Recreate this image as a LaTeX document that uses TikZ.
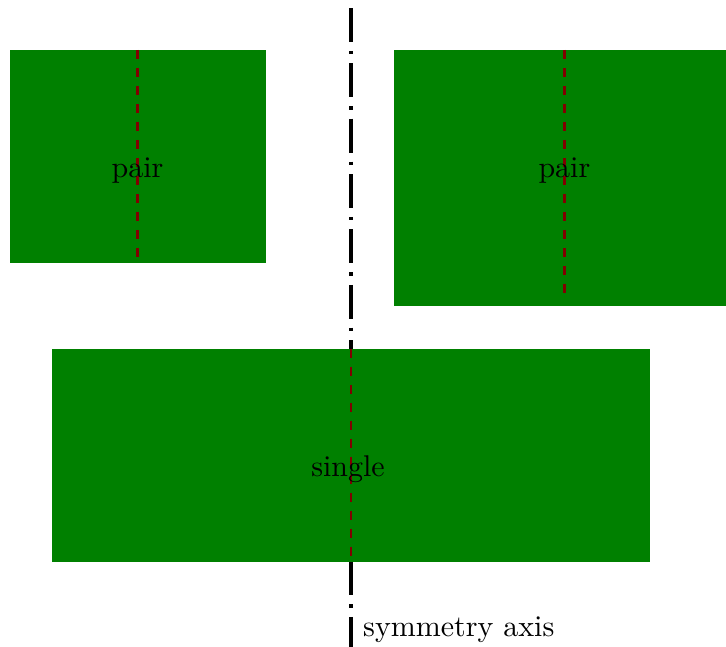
\documentclass[tikz,border=0pt]{standalone}
\usetikzlibrary{calc}
\definecolor{blockgreen}{RGB}{0,128,0}
\definecolor{midred}{RGB}{128,0,0}
\tikzset{
  blockbox/.style={fill=blockgreen, draw=none, inner sep=0pt, outer sep=0pt},
  midline/.style={midred, thick, dashed},
  axisline/.style={black, line width=1.4pt,
    dash pattern=on 11.3pt off 3pt on 1.15pt off 3pt},
  tag/.style={inner sep=0pt, anchor=base, font=\normalsize}
}
\begin{document}
\begin{tikzpicture}
\useasboundingbox (-4.112,-0.984) rectangle (4.393,6.584);

% symmetry axis, drawn first so the blocks cover it
\coordinate (axtop) at (0,6.49);
\coordinate (axbot) at (0,-1.05);
\draw[axisline] (axtop) -- (axbot);

% the three blocks
\node[blockbox, minimum width=3cm, minimum height=2.5cm] (lp) at (-2.5,4.75) {};
\node[blockbox, minimum width=4cm, minimum height=3cm] (rp) at (2.5,4.5) {};
\node[blockbox, minimum width=7cm, minimum height=2.5cm] (sg) at (0,1.25) {};

% centre lines of the blocks
\coordinate (rpend) at ($(rp.south)+(0,0.1)$);
\draw[midline] (lp.north) -- (lp.south);
\draw[midline] (rp.north) -- (rpend);
\draw[midline] (sg.north) -- (sg.south);

% labels
\node[tag] (lpt) at (-2.5,4.5) {pair};
\node[tag] (rpt) at (2.5,4.5) {pair};
\node[tag] (sgt) at (-0.035,1.0) {single};
\node[inner sep=0pt, anchor=base west] (axt) at (0.136,-0.875) {symmetry axis};
\end{tikzpicture}
\end{document}
